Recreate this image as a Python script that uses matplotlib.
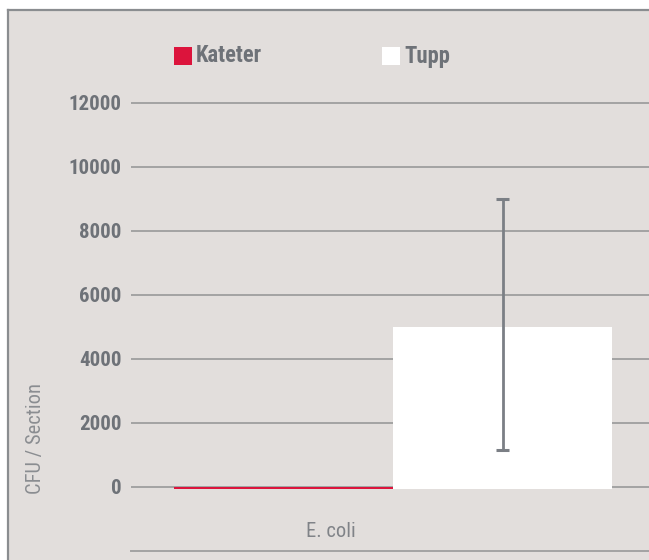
import numpy as np
import matplotlib; matplotlib.use("Agg"); import matplotlib.pyplot as plt
from matplotlib.lines import Line2D
from matplotlib.patches import Rectangle
plt.rcParams.update({"font.family":["Roboto Condensed","DejaVu Sans"]})

categories=["E. coli"]
series=["Kateter","Tupp"]
values={"Kateter":[0],"Tupp":[5000]}
err_lo={"Kateter":[None],"Tupp":[1150]}
err_hi={"Kateter":[None],"Tupp":[9000]}
yticks=[0,2000,4000,6000,8000,10000,12000]
colors={"Kateter":"#dc143c","Tupp":"#ffffff"}

BG="#e2dedc"; GRID="#a3a3a3"; TXT="#6e7278"; ERR="#7b7f85"
W,H=649,560
fig=plt.figure(figsize=(W/100,H/100),dpi=100)
fig.patch.set_facecolor("white")
# panel background + frame (top and left edges only)
fig.patches.append(Rectangle((8/W,0),1,(H-10)/H,transform=fig.transFigure,facecolor=BG,edgecolor="none",zorder=-5))
fig.lines.append(Line2D([8/W,1],[(H-10)/H]*2,transform=fig.transFigure,color="#8a8d90",lw=1.6,zorder=-4))
fig.lines.append(Line2D([8/W]*2,[0,(H-10)/H],transform=fig.transFigure,color="#8a8d90",lw=1.6,zorder=-4))

ax=fig.add_axes([131/W,9/H,524/W,(551-71)/H])
ax.set_facecolor("none")
ax.set_xlim(-0.5,0.5); ax.set_ylim(-2000,13000)
bw=0.418; base=-70
x=np.arange(len(categories))
for i,s in enumerate(series):
    off=(i-0.5)*bw
    v=np.array(values[s],dtype=float)
    ax.bar(x+off,v-base,bottom=base,width=bw,color=colors[s],zorder=3,linewidth=0)
    for xi,lo,hi in zip(x+off,err_lo[s],err_hi[s]):
        if lo is None: continue
        ax.plot([xi,xi],[lo,hi],color=ERR,lw=2,zorder=4,solid_capstyle="butt")
        for yy in (lo,hi):
            ax.plot([xi-0.012,xi+0.012],[yy,yy],color=ERR,lw=2.2,zorder=4,solid_capstyle="butt")
ax.set_yticks(yticks)
ax.set_yticklabels([str(t) for t in yticks],fontsize=15,fontweight="bold",color=TXT)
ax.yaxis.grid(True,color=GRID,lw=1.4,zorder=1)
ax.tick_params(axis="y",length=0,pad=7)
ax.set_xticks([])
for sp in ("top","right","left"):
    ax.spines[sp].set_visible(False)
ax.spines["bottom"].set_color(GRID); ax.spines["bottom"].set_linewidth(1.4)
for xi,c in zip(x,categories):
    # category label sits left of the group centre in the original
    ax.text(xi-0.118,-1380,c,ha="center",va="center",fontsize=14.8,color="#808388")

fig.text(35.5/W,1-439/H,"CFU / Section",rotation=90,ha="center",va="center",fontsize=14.8,color="#8a8d91")

# legend
lx=[174,382]
for s,x0 in zip(series,lx):
    fig.patches.append(Rectangle((x0/W,1-65/H),18/W,18/H,transform=fig.transFigure,facecolor=colors[s],edgecolor="none"))
    fig.text((x0+22)/W,1-56/H,s,ha="left",va="center",fontsize=16.3,fontweight="bold",color=TXT)

fig.savefig("out.png",dpi=100)
